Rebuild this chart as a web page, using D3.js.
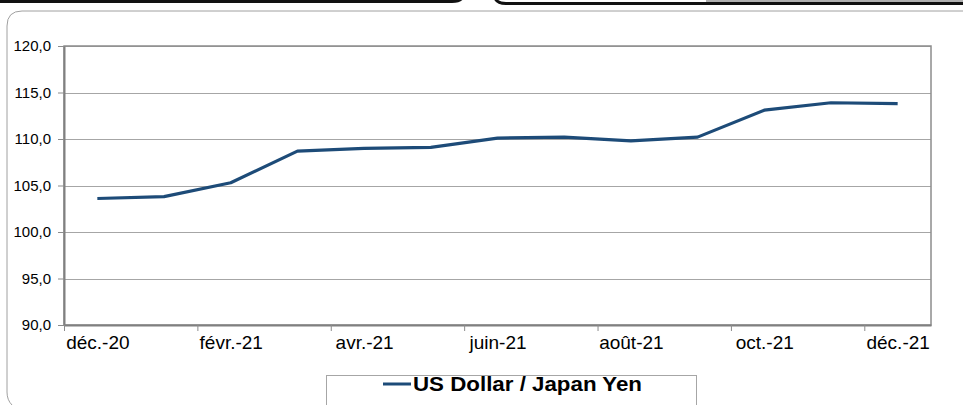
<!DOCTYPE html>
<html>
<head>
<meta charset="utf-8">
<script src="https://cdn.jsdelivr.net/npm/d3@7"></script>
<style>
  body { margin: 0; background: #fff; }
  svg { display: block; font-family: "Liberation Sans", Arial, sans-serif; }
</style>
</head>
<body>
<svg></svg>
<script>
let months = ["déc.-20", "janv.-21", "févr.-21", "mars-21", "avr.-21", "mai-21", "juin-21",
              "juil.-21", "août-21", "sept.-21", "oct.-21", "nov.-21", "déc.-21"];
let usdJpy = [103.6, 103.8, 105.3, 108.7, 109.0, 109.1, 110.1, 110.2, 109.8, 110.2, 113.1, 113.9, 113.8];
let yTicks = [90, 95, 100, 105, 110, 115, 120];
let seriesName = "US Dollar / Japan Yen";

let width = 963;
let height = 405;
let plot = { left: 64, right: 931, top: 46, bottom: 325 };
let lineColor = "#1d4b78";

let svg = d3.select("svg")
    .attr("width", width)
    .attr("height", height);

// frame bits from the surrounding page
svg.append("path")
    .attr("d", "M0,1.5 L452,1.5 Q460,1.5 462,-2")
    .attr("fill", "none")
    .attr("stroke", "#111")
    .attr("stroke-width", 3);
svg.append("path")
    .attr("d", "M495,-2 Q497,3.5 506,3.5 L963,3.5")
    .attr("fill", "none")
    .attr("stroke", "#111")
    .attr("stroke-width", 3);
svg.append("rect")
    .attr("x", 706).attr("y", 0).attr("width", 257).attr("height", 2)
    .attr("fill", "#b0b0b0");

svg.append("path")
    .attr("d", "M963,11 L22,11 Q7,11 7,26 L7,392 Q7,400 12,405")
    .attr("fill", "none")
    .attr("stroke", "#a0a0a0")
    .attr("stroke-width", 1);

let xScale = d3.scaleLinear()
    .domain([-0.5, months.length - 0.5])
    .range([plot.left, plot.right]);

let yScale = d3.scaleLinear()
    .domain([90, 120])
    .range([plot.bottom, plot.top]);

// gridlines
svg.append("g")
    .selectAll("line")
    .data(yTicks)
    .enter()
    .append("line")
    .attr("x1", plot.left)
    .attr("x2", plot.right)
    .attr("y1", (d) => Math.round(yScale(d)) + 0.5)
    .attr("y2", (d) => Math.round(yScale(d)) + 0.5)
    .attr("stroke", "#a6a6a6")
    .attr("stroke-width", 1);

// plot border
svg.append("rect")
    .attr("x", plot.left)
    .attr("y", plot.top)
    .attr("width", plot.right - plot.left)
    .attr("height", plot.bottom - plot.top)
    .attr("fill", "none")
    .attr("stroke", "#8c8c8c")
    .attr("stroke-width", 1.5);

// y axis
let yAxis = d3.axisLeft(yScale)
    .tickValues(yTicks)
    .tickSize(6)
    .tickSizeOuter(0)
    .tickPadding(7)
    .tickFormat((d) => d3.format(".1f")(d).replace(".", ","));

let yg = svg.append("g")
    .attr("transform", "translate(" + plot.left + ",0)")
    .call(yAxis);
yg.select(".domain").attr("stroke", "#808080").attr("stroke-width", 2);
yg.selectAll(".tick line").attr("stroke", "#8c8c8c");
yg.selectAll(".tick text")
    .style("font-size", "15px")
    .attr("fill", "#000");

// x axis: ticks between every second month, labels on every second month
let boundaries = d3.range(-0.5, months.length - 1, 2);
let xTickAxis = d3.axisBottom(xScale)
    .tickValues(boundaries)
    .tickSize(6)
    .tickSizeOuter(0)
    .tickFormat("");
let xg = svg.append("g")
    .attr("transform", "translate(0," + plot.bottom + ")")
    .call(xTickAxis);
xg.select(".domain").attr("stroke", "#808080").attr("stroke-width", 2);
xg.selectAll(".tick line").attr("stroke", "#8c8c8c");

let labelIdx = d3.range(0, months.length, 2);
let xLabelAxis = d3.axisBottom(xScale)
    .tickValues(labelIdx)
    .tickSize(0)
    .tickPadding(11)
    .tickFormat((i) => months[i]);
let xl = svg.append("g")
    .attr("transform", "translate(0," + plot.bottom + ")")
    .call(xLabelAxis);
xl.select(".domain").remove();
xl.selectAll(".tick text")
    .style("font-size", "19px")
    .attr("fill", "#000");

// line
let line = d3.line()
    .x((d, i) => xScale(i))
    .y((d) => yScale(d));

svg.append("path")
    .datum(usdJpy)
    .attr("d", line)
    .attr("fill", "none")
    .attr("stroke", lineColor)
    .attr("stroke-width", 3.2)
    .attr("stroke-linejoin", "round");

// legend
let legend = svg.append("g");
legend.append("rect")
    .attr("x", 326.5)
    .attr("y", 375.5)
    .attr("width", 370)
    .attr("height", 40)
    .attr("fill", "#fff")
    .attr("stroke", "#a6a6a6")
    .attr("stroke-width", 1);
legend.append("line")
    .attr("x1", 383)
    .attr("x2", 411)
    .attr("y1", 384)
    .attr("y2", 384)
    .attr("stroke", lineColor)
    .attr("stroke-width", 3);
legend.append("text")
    .attr("x", 413)
    .attr("y", 391)
    .attr("textLength", 229)
    .attr("lengthAdjust", "spacingAndGlyphs")
    .style("font-size", "20px")
    .style("font-weight", "bold")
    .text(seriesName);
</script>
</body>
</html>
